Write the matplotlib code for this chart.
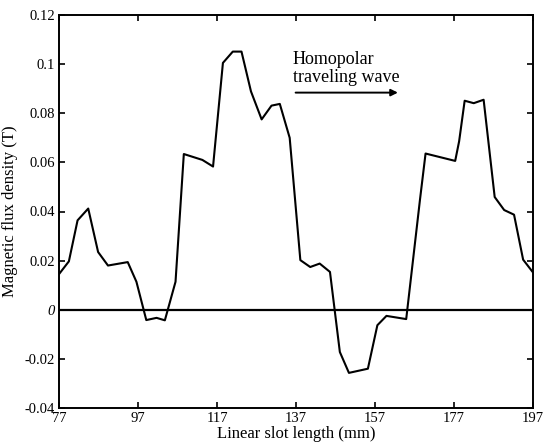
import matplotlib
matplotlib.use("Agg")
import matplotlib.pyplot as plt

plt.rcParams['font.family'] = ['Liberation Serif', 'DejaVu Serif']

# Data
slot_mm = [77, 79.5, 81.7, 84.4, 86.9, 89.4, 94.4, 96.6, 99.1, 101.7, 103.8, 106.5,
           108.6, 113.3, 116.0, 118.5, 121.0, 123.2, 125.6, 128.3, 130.8, 132.9,
           135.4, 138.1, 140.6, 143.0, 145.6, 148.1, 150.4, 155.2, 157.6, 159.9,
           164.9, 168.4, 169.8, 177.3, 178.3, 179.7, 182.0, 184.5, 187.3, 189.7,
           192.2, 194.5, 197]
flux_T = [0.0145, 0.0197, 0.0364, 0.0412, 0.0235, 0.0180, 0.0194, 0.0114, -0.0042,
          -0.0033, -0.0043, 0.0114, 0.0634, 0.0610, 0.0583, 0.1005, 0.1051, 0.1051,
          0.0889, 0.0775, 0.0831, 0.0838, 0.0700, 0.0202, 0.0174, 0.0188, 0.0154,
          -0.0172, -0.0257, -0.0240, -0.0063, -0.0025, -0.0038, 0.0450, 0.0636,
          0.0606, 0.0686, 0.0851, 0.0841, 0.0855, 0.0459, 0.0406, 0.0387, 0.0204,
          0.0152]

x_ticks = [77, 97, 117, 137, 157, 177, 197]
y_ticks = [-0.04, -0.02, 0, 0.02, 0.04, 0.06, 0.08, 0.1, 0.12]
y_tick_labels = ['-0.04', '-0.02', '0', '0.02', '0.04', '0.06', '0.08', '0.1', '0.12']

fig = plt.figure(figsize=(5.46, 4.46), dpi=100)
ax = fig.add_axes([59/546, 1-408/446, (533-59)/546, (408-15)/446])

ax.plot(slot_mm, flux_T, color='black', lw=1.5)
ax.axhline(0, color='black', lw=1.6)

ax.set_xlim(77, 197)
ax.set_ylim(-0.04, 0.12)
ax.set_xticks(x_ticks)
ax.set_xticklabels([str(t) for t in x_ticks])
ax.set_yticks(y_ticks)
ax.set_yticklabels(y_tick_labels)
for lbl in ax.get_yticklabels():
    if lbl.get_text() == '0':
        lbl.set_style('italic')

ax.tick_params(direction='in', top=True, right=True, length=4, width=1.2,
               labelsize=10.5, pad=3)
for s in ax.spines.values():
    s.set_linewidth(1.4)

ax.set_xlabel('Linear slot length (mm)', fontsize=12)
ax.set_ylabel('Magnetic flux density (T)', fontsize=12)
ax.xaxis.set_label_coords(0.5, -0.045)
ax.yaxis.set_label_coords(-0.087, 0.5)

ax.text(136.2, 0.1002, 'Homopolar', fontsize=13, ha='left', va='baseline')
ax.text(136.2, 0.0928, 'traveling wave', fontsize=13, ha='left', va='baseline')
ax.annotate('', xy=(163.5, 0.0884), xytext=(136.2, 0.0884),
            arrowprops=dict(arrowstyle='-|>', lw=1.4, color='black', mutation_scale=10))

fig.savefig('out.png', dpi=100)
